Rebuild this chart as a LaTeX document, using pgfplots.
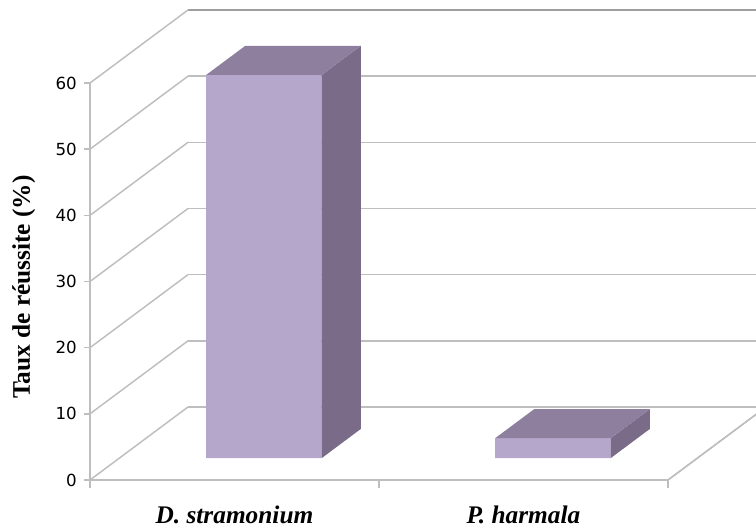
\documentclass[border=0pt]{standalone}
\usepackage{fontspec}
\setmainfont{Liberation Serif}
\newfontfamily\tickfont{DejaVu Sans}
\usepackage{pgfplots}
\pgfplotsset{compat=1.18}
\definecolor{frontc}{RGB}{181,166,203}
\definecolor{topc}{RGB}{141,127,157}
\definecolor{sidec}{RGB}{122,108,137}
\definecolor{gridc}{RGB}{190,190,190}
\begin{document}
\begin{tikzpicture}
\begin{axis}[
  x={(216.75pt,0pt)}, y={(73.5pt,54.75pt)}, z={(0pt,4.9625pt)},
  xmin=0, xmax=2, ymin=0, ymax=1, zmin=0, zmax=60,
  axis lines*=left,
  axis line style={gridc, line width=1.1pt},
  ytick=\empty,
  ztick={0,10,20,30,40,50,60},
  zmajorgrids=true,
  major grid style={gridc, line width=1.1pt},
  xtick={0.5,1.5},
  xticklabels={D. stramonium, P. harmala},
  major tick length=0pt,
  xticklabel style={font=\bfseries\itshape\fontsize{19}{19}\selectfont, anchor=base, inner sep=0pt, yshift=-33pt},
  zticklabel style={font=\tickfont\fontsize{12.5}{12.5}\selectfont, anchor=east, inner sep=0pt, xshift=-9.75pt},
  /pgf/number format/assume math mode=true,
  every axis z label/.style={at={(ticklabel cs:0.5)}, xshift=-12.75pt, yshift=4pt, rotate=90, anchor=south},
  zlabel={Taux de réussite (\%)},
  zlabel style={font=\bfseries\fontsize{19}{19}\selectfont},
  clip=false,
  unbounded coords=jump,
]
\coordinate (O) at (axis cs:0,0,0);
\addplot3[draw=none, fill=frontc] coordinates {(0.3,0.3,0) (0.7,0.3,0) (0.7,0.3,57.9) (0.3,0.3,57.9) (0.3,0.3,0)};
\addplot3[draw=none, fill=sidec] coordinates {(0.7,0.3,0) (0.7,0.7,0) (0.7,0.7,57.9) (0.7,0.3,57.9) (0.7,0.3,0)};
\addplot3[draw=none, fill=topc] coordinates {(0.3,0.3,57.9) (0.7,0.3,57.9) (0.7,0.7,57.9) (0.3,0.7,57.9) (0.3,0.3,57.9)};
\addplot3[draw=none, fill=frontc] coordinates {(1.3,0.3,0) (1.7,0.3,0) (1.7,0.3,3) (1.3,0.3,3) (1.3,0.3,0)};
\addplot3[draw=none, fill=sidec] coordinates {(1.7,0.3,0) (1.7,0.7,0) (1.7,0.7,3) (1.7,0.3,3) (1.7,0.3,0)};
\addplot3[draw=none, fill=topc] coordinates {(1.3,0.3,3) (1.7,0.3,3) (1.7,0.7,3) (1.3,0.7,3) (1.3,0.3,3)};
\addplot3[gridc, line width=1.1pt] coordinates {(2,0,0) (2,1,0)};
\addplot3[gray!75, line width=1.1pt] coordinates {(0,1,60) (2,1,60)};
% tick marks
\addplot3[gridc, line width=1.1pt] coordinates {(0,0,0) (0,0,-1.2) (nan,nan,nan) (1,0,0) (1,0,-1.2) (nan,nan,nan) (2,0,0) (2,0,-1.2)};
\addplot3[gridc, line width=1.1pt] coordinates {(0,0,0) (-0.021,0,0) (nan,nan,nan) (0,0,10) (-0.021,0,10) (nan,nan,nan) (0,0,20) (-0.021,0,20) (nan,nan,nan) (0,0,30) (-0.021,0,30) (nan,nan,nan) (0,0,40) (-0.021,0,40) (nan,nan,nan) (0,0,50) (-0.021,0,50) (nan,nan,nan) (0,0,60) (-0.021,0,60)};
\end{axis}
\pgfresetboundingbox
\path[use as bounding box] ([shift={(-67.5pt,-37.5pt)}]O) rectangle ([shift={(499.5pt,360pt)}]O);
\end{tikzpicture}
\end{document}
